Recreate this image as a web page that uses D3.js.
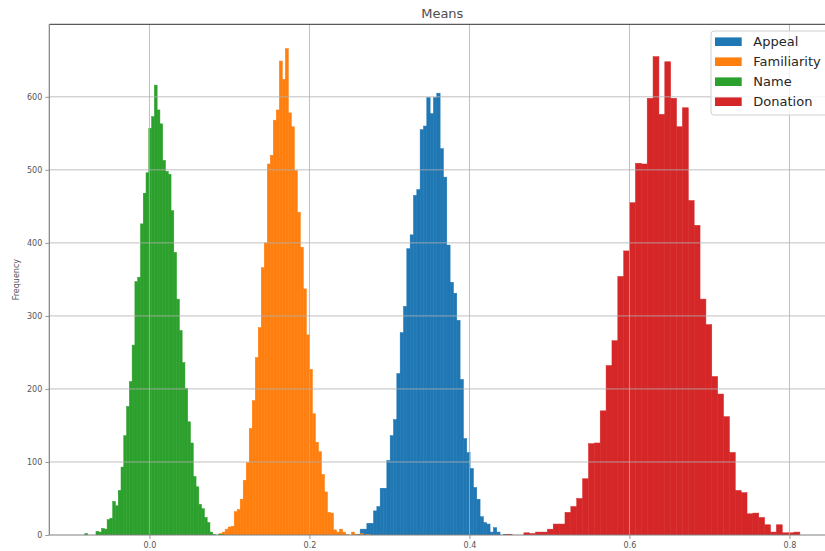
<!DOCTYPE html>
<html>
<head>
<meta charset="utf-8">
<script src="https://cdn.jsdelivr.net/npm/d3@7"></script>
<style>
  html, body { margin: 0; padding: 0; background: #ffffff; }
  svg { display: block; font-family: "DejaVu Sans", sans-serif; }
</style>
</head>
<body>
<svg id="chart" width="825" height="551"></svg>
<script>
// ---------------- data ----------------
const seriesNames = ["Appeal", "Familiarity", "Name", "Donation"];
const seriesColors = ["#1f77b4", "#ff7f0e", "#2ca02c", "#d62728"];

// histogram ranges (min, max of data) and bin counts
const appealRange = [0.25925, 0.44658];
const appealCounts = [1, 8, 8, 16, 16, 33, 39, 64, 64, 102, 136, 158, 221, 277, 313, 392, 411, 465, 473, 555,
  560, 599, 577, 599, 605, 529, 490, 397, 346, 331, 294, 213, 132, 113, 91, 65, 49, 25, 17, 15,
  4, 10, 4, 0, 1];

const familiarityRange = [0.0871, 0.2752];
const familiarityCounts = [2, 4, 8, 11, 12, 32, 35, 49, 75, 99, 146, 184, 243, 284, 366, 400, 508, 520, 568, 582,
  649, 624, 666, 578, 559, 499, 442, 394, 337, 274, 227, 166, 127, 114, 83, 59, 31, 30, 7, 4,
  8, 4, 1, 0, 4, 1, 0, 2, 0, 1];

const nameRange = [-0.08075, 0.0930];
const nameCounts = [2, 0, 0, 0, 5, 4, 9, 8, 21, 23, 46, 40, 61, 93, 136, 176, 210, 260, 347, 353,
  426, 468, 496, 557, 573, 616, 582, 563, 513, 498, 494, 444, 387, 323, 280, 236, 201, 155, 126, 80,
  66, 42, 36, 24, 17, 4, 1, 0, 1, 1];

const donationRange = [0.4460, 0.8130];
const donationCounts = [1, 0, 0, 3, 2, 4, 4, 8, 15, 15, 31, 39, 50, 77, 125, 126, 170, 232, 266, 354,
  389, 455, 509, 508, 598, 655, 576, 648, 598, 559, 585, 458, 424, 323, 288, 217, 193, 162, 113, 61,
  58, 29, 30, 24, 14, 4, 14, 3, 3, 4];

const xTicks = [0.0, 0.2, 0.4, 0.6, 0.8];
const xTickLabels = ["0.0", "0.2", "0.4", "0.6", "0.8"];
const yTicks = [0, 100, 200, 300, 400, 500, 600];
const yTickLabels = ["0", "100", "200", "300", "400", "500", "600"];
const xDomain = [-0.1252, 0.8573];
const yDomain = [0, 699.3];
const titleText = "Means";
const yLabelText = "Frequency";

// ---------------- layout ----------------
const margin = { left: 49.3, right: 835.3, top: 24.3, bottom: 535 };
const svg = d3.select("#chart");

const x = d3.scaleLinear().domain(xDomain).range([margin.left, margin.right]);
const y = d3.scaleLinear().domain(yDomain).range([margin.bottom, margin.top]);

const series = [
  { name: seriesNames[0], range: appealRange, counts: appealCounts, color: seriesColors[0] },
  { name: seriesNames[1], range: familiarityRange, counts: familiarityCounts, color: seriesColors[1] },
  { name: seriesNames[2], range: nameRange, counts: nameCounts, color: seriesColors[2] },
  { name: seriesNames[3], range: donationRange, counts: donationCounts, color: seriesColors[3] }
];

function bins(s) {
  const n = s.counts.length;
  const w = (s.range[1] - s.range[0]) / n;
  return s.counts.map((c, i) => ({ x0: s.range[0] + i * w, x1: s.range[0] + (i + 1) * w, c: c }));
}

svg.append("defs").append("clipPath").attr("id", "plotclip")
  .append("rect").attr("x", margin.left).attr("y", margin.top)
  .attr("width", margin.right - margin.left).attr("height", margin.bottom - margin.top);

const plot = svg.append("g").attr("clip-path", "url(#plotclip)");

// bars (a thin same-colour stroke hides anti-aliasing seams between adjacent bins)
series.forEach(s => {
  plot.append("g").selectAll("rect").data(bins(s).filter(b => b.c > 0)).join("rect")
    .attr("x", b => x(b.x0))
    .attr("width", b => x(b.x1) - x(b.x0))
    .attr("y", b => y(b.c))
    .attr("height", b => y(0) - y(b.c))
    .attr("fill", s.color)
    .attr("stroke", s.color)
    .attr("stroke-width", 0.5);
});

// grid (drawn above bars, as in the reference)
const grid = svg.append("g").attr("stroke", "#b0b0b0").attr("stroke-width", 0.8);
grid.selectAll("line.v").data(xTicks).join("line").attr("class", "v")
  .attr("x1", d => x(d)).attr("x2", d => x(d))
  .attr("y1", margin.top).attr("y2", margin.bottom);
grid.selectAll("line.h").data(yTicks.filter(d => d > 0)).join("line").attr("class", "h")
  .attr("x1", margin.left).attr("x2", margin.right)
  .attr("y1", d => y(d)).attr("y2", d => y(d));

// axes
const xAxis = d3.axisBottom(x).tickValues(xTicks).tickFormat((d, i) => xTickLabels[i]).tickSize(4).tickPadding(3);
const yAxis = d3.axisLeft(y).tickValues(yTicks).tickFormat((d, i) => yTickLabels[i]).tickSize(4).tickPadding(3);

const gx = svg.append("g").attr("transform", `translate(0,${margin.bottom})`).call(xAxis);
const gy = svg.append("g").attr("transform", `translate(${margin.left},0)`).call(yAxis);
[gx, gy].forEach(g => {
  g.select(".domain").remove();
  g.selectAll(".tick line").attr("stroke", "#808080").attr("stroke-width", 0.8);
  g.selectAll(".tick text").attr("fill", "#555555").style("font-size", "8px")
    .style("font-family", "'DejaVu Sans', sans-serif");
});

// spines
svg.append("line").attr("x1", margin.left).attr("x2", margin.right)
  .attr("y1", margin.top).attr("y2", margin.top).attr("stroke", "#333333").attr("stroke-width", 1);
svg.append("line").attr("x1", margin.left).attr("x2", margin.left)
  .attr("y1", margin.top).attr("y2", margin.bottom).attr("stroke", "#808080").attr("stroke-width", 1.2);
svg.append("line").attr("x1", margin.left).attr("x2", margin.right)
  .attr("y1", margin.bottom).attr("y2", margin.bottom).attr("stroke", "#808080").attr("stroke-width", 1.2);

// title
svg.append("text").attr("x", (margin.left + margin.right) / 2).attr("y", 17.5)
  .attr("text-anchor", "middle").attr("fill", "#4d4d4d").style("font-size", "13px")
  .text(titleText);

// y label
svg.append("text")
  .attr("transform", `translate(18.5,${(margin.top + margin.bottom) / 2}) rotate(-90)`)
  .attr("text-anchor", "middle").attr("fill", "#555555").style("font-size", "8px")
  .text(yLabelText);

// legend
const lg = svg.append("g");
lg.append("rect").attr("x", 711).attr("y", 31).attr("width", 118).attr("height", 84)
  .attr("rx", 3).attr("fill", "#ffffff").attr("fill-opacity", 0.8)
  .attr("stroke", "#d0d0d0").attr("stroke-width", 1);
series.forEach((s, i) => {
  const cy = 41.7 + i * 20;
  lg.append("rect").attr("x", 715).attr("y", cy - 4.3).attr("width", 26.7).attr("height", 8.6)
    .attr("fill", s.color);
  lg.append("text").attr("x", 753.3).attr("y", cy).attr("dy", "0.36em")
    .attr("fill", "#262626").style("font-size", "13px").text(s.name);
});
</script>
</body>
</html>
